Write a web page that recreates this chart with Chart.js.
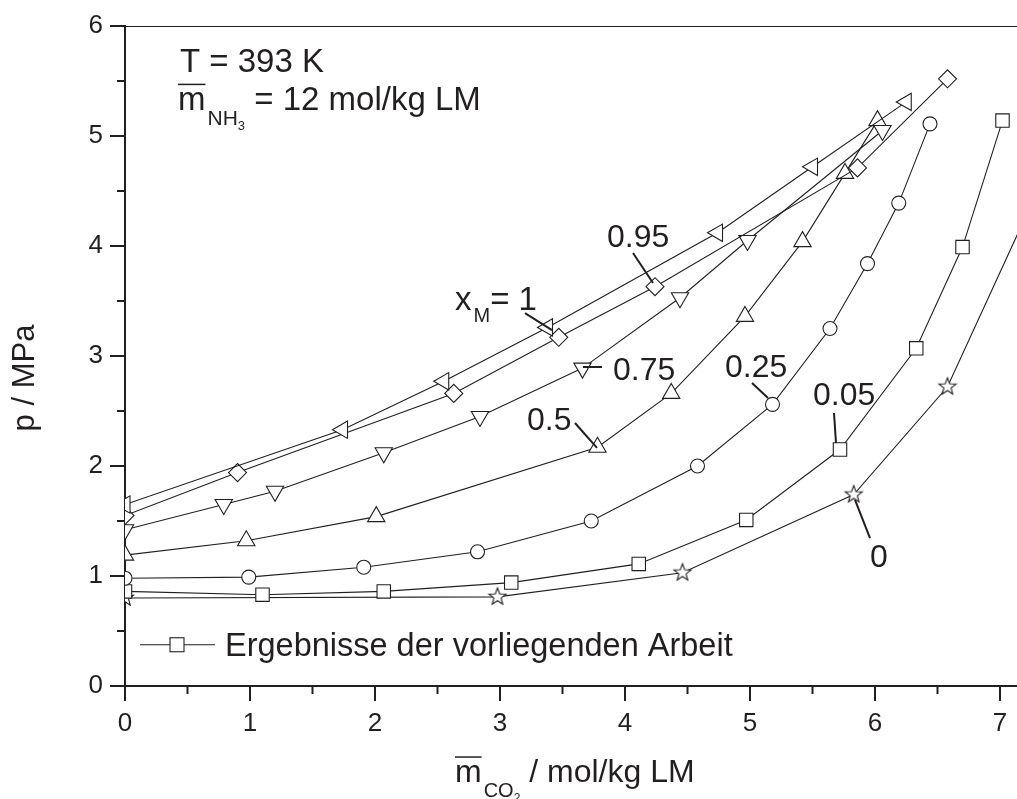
<!DOCTYPE html>
<html>
<head>
<meta charset="utf-8">
<script src="https://cdn.jsdelivr.net/npm/chart.js@4.4.1/dist/chart.umd.min.js"></script>
<style>
  html, body { margin: 0; padding: 0; background: #fff; }
</style>
</head>
<body>
<canvas id="chart" width="1017" height="799"></canvas>
<script>
// axis ticks
const xTicks = [0, 1, 2, 3, 4, 5, 6, 7];
const yTicks = [0, 1, 2, 3, 4, 5, 6];

// x_M = 1  (left triangles)
const m100 = [0, 1.74, 2.55, 3.38, 4.74, 5.5, 6.25];
const p100 = [1.65, 2.33, 2.77, 3.26, 4.12, 4.72, 5.31];
// x_M = 0.95  (diamonds)
const m095 = [0, 0.9, 2.63, 3.47, 4.24, 5.86, 6.58];
const p095 = [1.55, 1.94, 2.66, 3.17, 3.63, 4.71, 5.52];
// x_M = 0.75  (down triangles)
const m075 = [0, 0.79, 1.2, 2.07, 2.84, 3.66, 4.44, 4.98, 6.06];
const p075 = [1.42, 1.65, 1.77, 2.12, 2.45, 2.89, 3.53, 4.05, 5.05];
// x_M = 0.5  (up triangles)
const m050 = [0, 0.97, 2.01, 3.78, 4.37, 4.96, 5.42, 5.76, 6.02];
const p050 = [1.19, 1.32, 1.54, 2.17, 2.66, 3.36, 4.04, 4.66, 5.14];
// x_M = 0.25  (circles)
const m025 = [0, 0.99, 1.91, 2.82, 3.73, 4.58, 5.18, 5.64, 5.94, 6.19, 6.44];
const p025 = [0.98, 0.99, 1.08, 1.22, 1.50, 2.0, 2.56, 3.25, 3.84, 4.39, 5.11];
// x_M = 0.05  (squares)
const m005 = [0, 1.1, 2.07, 3.09, 4.11, 4.97, 5.72, 6.33, 6.70, 7.02];
const p005 = [0.86, 0.83, 0.86, 0.94, 1.11, 1.51, 2.15, 3.07, 3.99, 5.14];
// x_M = 0  (stars), last point lies past the axis end
const m000 = [0, 2.98, 4.46, 5.83, 6.58, 7.4];
const p000 = [0.80, 0.81, 1.03, 1.74, 2.72, 4.75];

// curve labels: text, text pos, leader start, leader end (data units)
const curveLabels = [
  { t: '0.95', at: [3.856, 3.99], from: [4.064, 3.936], to: [4.224, 3.664] },
  { t: '0.75', at: [3.904, 2.782], from: [3.664, 2.9], to: [3.816, 2.9] },
  { t: '0.5', at: [3.216, 2.327], from: [3.6, 2.391], to: [3.776, 2.164] },
  { t: '0.25', at: [4.8, 2.809], from: [5.016, 2.755], to: [5.144, 2.618] },
  { t: '0.05', at: [5.504, 2.555], from: [5.672, 2.482], to: [5.688, 2.209] },
  { t: '0', at: [5.96, 1.082], from: [5.96, 1.345], to: [5.84, 1.691] }
];

const INK = '#231f20';
const FONT = '"Liberation Sans", Arial, sans-serif';

function makeStar(r) {
  const c = document.createElement('canvas');
  const s = Math.ceil(r * 2 + 4);
  c.width = c.height = s;
  const g = c.getContext('2d');
  g.beginPath();
  for (let i = 0; i < 10; i++) {
    const rr = i % 2 ? r * 0.42 : r;
    const a = -Math.PI / 2 + i * Math.PI / 5;
    g.lineTo(s / 2 + rr * Math.cos(a), s / 2 + rr * Math.sin(a));
  }
  g.closePath();
  g.fillStyle = '#fff';
  g.fill();
  g.strokeStyle = INK;
  g.lineWidth = 1.1;
  g.stroke();
  return c;
}

function pts(xs, ys) {
  return xs.map((x, i) => ({ x: x, y: ys[i] }));
}

function series(label, xs, ys, style, radius, rotation) {
  return {
    label: label,
    data: pts(xs, ys),
    showLine: true,
    borderColor: INK,
    borderWidth: 1.1,
    pointStyle: style,
    pointRadius: radius,
    pointRotation: rotation || 0,
    pointBackgroundColor: '#fff',
    pointBorderColor: INK,
    pointBorderWidth: 1.1,
    clip: 0
  };
}

// draw text pieces one after another (subscripts, overline)
function drawRich(ctx, x, y, parts) {
  parts.forEach(p => {
    ctx.font = p.size + 'px ' + FONT;
    const w = ctx.measureText(p.t).width;
    const yy = y + (p.dy || 0);
    ctx.fillText(p.t, x + (p.dx || 0), yy);
    if (p.over) {
      ctx.lineWidth = 1.5;
      ctx.beginPath();
      ctx.moveTo(x + (p.dx || 0), yy - p.size * 0.78);
      ctx.lineTo(x + (p.dx || 0) + w, yy - p.size * 0.78);
      ctx.stroke();
    }
    x += w + (p.dx || 0);
  });
}

function seg(ctx, x1, y1, x2, y2) {
  ctx.beginPath();
  ctx.moveTo(x1, y1);
  ctx.lineTo(x2, y2);
  ctx.stroke();
}

const decor = {
  id: 'decor',
  afterDraw(chart) {
    const ctx = chart.ctx;
    const a = chart.chartArea;
    const px = v => chart.scales.x.getPixelForValue(v);
    const py = v => chart.scales.y.getPixelForValue(v);
    ctx.save();
    ctx.strokeStyle = INK;
    ctx.fillStyle = INK;
    ctx.textBaseline = 'alphabetic';

    // top frame line
    ctx.lineWidth = 1;
    seg(ctx, a.left, a.top + 0.5, a.right, a.top + 0.5);

    // outward tick marks, minor ones halfway
    ctx.lineWidth = 2;
    xTicks.forEach(v => {
      seg(ctx, px(v), a.bottom, px(v), a.bottom + 15);
      if (v + 0.5 <= chart.scales.x.max) seg(ctx, px(v + 0.5), a.bottom, px(v + 0.5), a.bottom + 8);
    });
    yTicks.forEach(v => {
      seg(ctx, a.left, py(v), a.left - 15, py(v));
      if (v + 0.5 < 6) seg(ctx, a.left, py(v + 0.5), a.left - 8, py(v + 0.5));
    });

    // header
    ctx.font = '33px ' + FONT;
    ctx.fillText('T = 393 K', a.left + 55, py(5.58));
    drawRich(ctx, a.left + 53, py(5.235), [
      { t: 'm', size: 33, over: true },
      { t: 'NH', size: 21, dy: 15, dx: 2 },
      { t: '3', size: 13, dy: 20 },
      { t: ' = 12 mol/kg LM', size: 33 }
    ]);

    // x_M = 1 label
    drawRich(ctx, px(2.64), py(3.418), [
      { t: 'x', size: 33 },
      { t: 'M', size: 20, dy: 12, dx: 2 },
      { t: '= 1', size: 33 }
    ]);
    ctx.lineWidth = 2;
    seg(ctx, px(3.2), py(3.39), px(3.416), py(3.236));

    curveLabels.forEach(l => {
      ctx.font = '32px ' + FONT;
      ctx.fillText(l.t, px(l.at[0]), py(l.at[1]));
      ctx.lineWidth = 2;
      seg(ctx, px(l.from[0]), py(l.from[1]), px(l.to[0]), py(l.to[1]));
    });

    // legend
    const ly = py(0.375);
    const lx = a.left + 15;
    ctx.lineWidth = 1.1;
    seg(ctx, lx, ly, lx + 75, ly);
    ctx.fillStyle = '#fff';
    ctx.fillRect(lx + 30, ly - 7, 14, 14);
    ctx.strokeRect(lx + 30, ly - 7, 14, 14);
    ctx.fillStyle = INK;
    ctx.font = '32.5px ' + FONT;
    ctx.fillText('Ergebnisse der vorliegenden Arbeit', lx + 85, ly + 11);

    // axis titles
    drawRich(ctx, 455, 782, [
      { t: 'm', size: 32, over: true },
      { t: 'CO', size: 20, dy: 15, dx: 2 },
      { t: '2', size: 12, dy: 20 },
      { t: ' / mol/kg LM', size: 32 }
    ]);
    ctx.translate(34, 378);
    ctx.rotate(-Math.PI / 2);
    ctx.textAlign = 'center';
    ctx.font = '31px ' + FONT;
    ctx.fillText('p / MPa', 0, 0);
    ctx.restore();
  }
};

const tickFont = { family: FONT, size: 26 };

new Chart(document.getElementById('chart'), {
  type: 'scatter',
  data: {
    datasets: [
      series('x_M = 1', m100, p100, 'triangle', 10, -90),
      series('x_M = 0.95', m095, p095, 'rectRot', 9),
      series('x_M = 0.75', m075, p075, 'triangle', 10, 180),
      series('x_M = 0.5', m050, p050, 'triangle', 10),
      series('x_M = 0.25', m025, p025, 'circle', 7),
      series('x_M = 0.05', m005, p005, 'rect', 9.5),
      series('x_M = 0', m000, p000, makeStar(9), 9)
    ]
  },
  options: {
    responsive: false,
    animation: false,
    devicePixelRatio: 1,
    layout: { autoPadding: false, padding: { top: 26, right: 0, left: 0, bottom: 0 } },
    plugins: { legend: { display: false }, tooltip: { enabled: false } },
    scales: {
      x: {
        type: 'linear',
        min: 0,
        max: 7.136,
        afterFit(s) { s.height = 113; s.paddingLeft = 0; s.paddingRight = 0; },
        grid: { display: false, drawTicks: false },
        border: { display: true, color: INK, width: 2 },
        ticks: { stepSize: 1, includeBounds: false, padding: 22, font: tickFont, color: INK }
      },
      y: {
        type: 'linear',
        min: 0,
        max: 6,
        afterFit(s) { s.width = 125; s.paddingTop = 0; s.paddingBottom = 0; },
        grid: { display: false, drawTicks: false },
        border: { display: true, color: INK, width: 2 },
        ticks: { stepSize: 1, padding: 22, font: tickFont, color: INK }
      }
    }
  },
  plugins: [decor]
});
</script>
</body>
</html>
